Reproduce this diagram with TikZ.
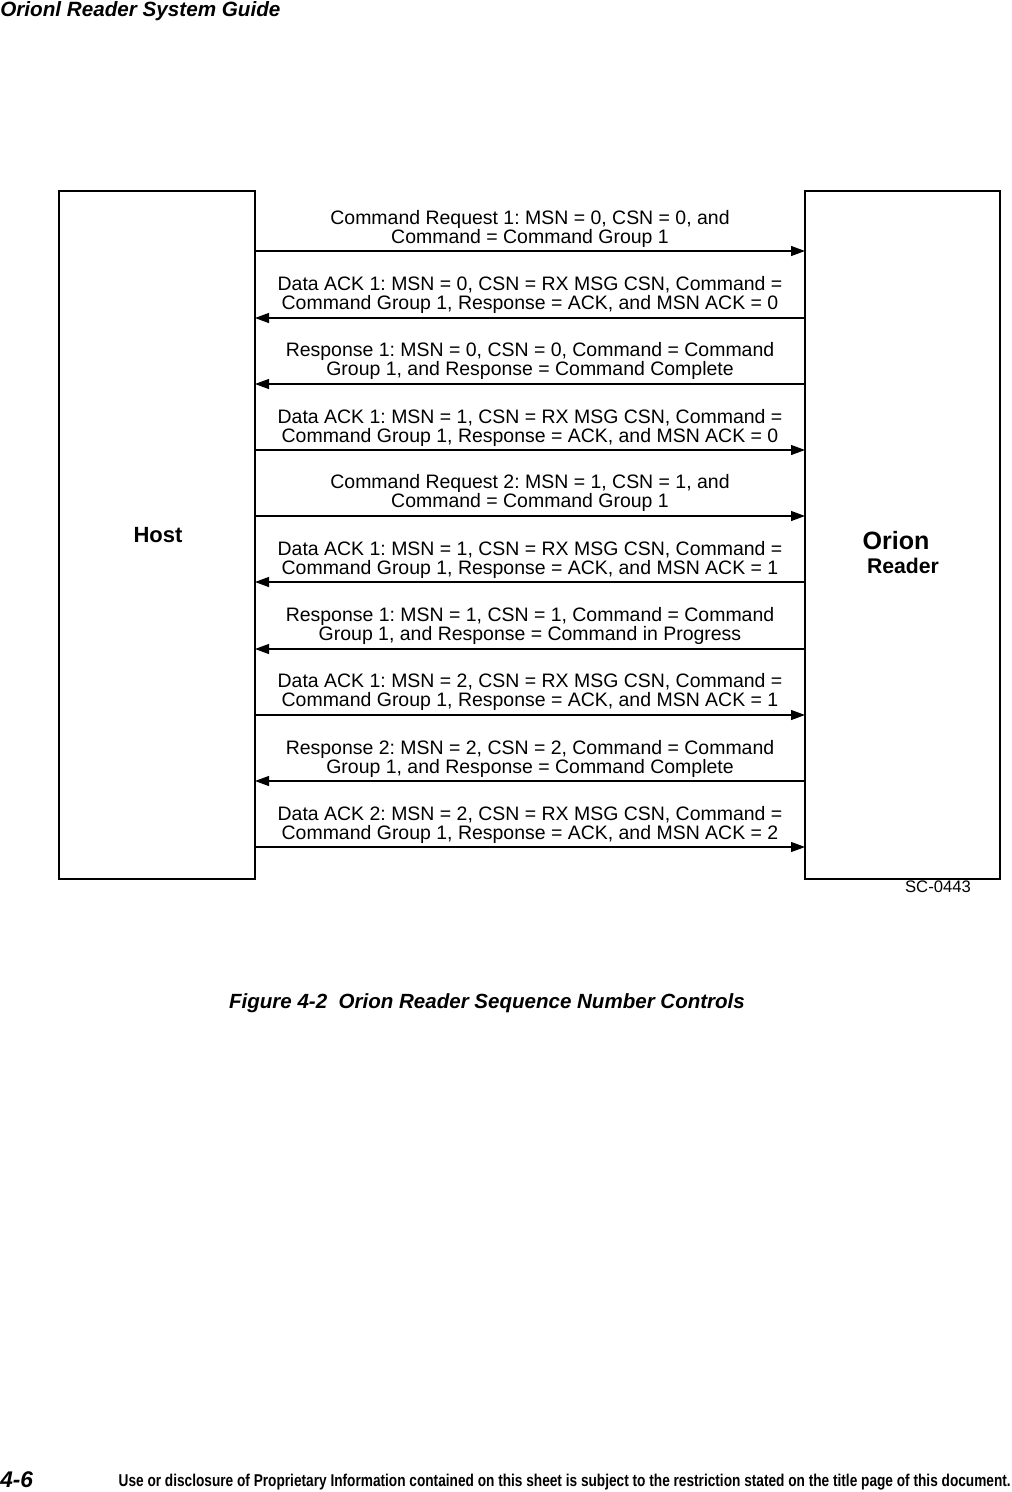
\documentclass[tikz,border=0pt]{standalone}
\usepackage{fontspec}
\usepackage{graphicx}
\setmainfont{Liberation Sans}
\newfontfamily\narrowfont[FakeStretch=0.8]{Liberation Sans}
\usetikzlibrary{arrows.meta}
\frenchspacing
\begin{document}
\begin{tikzpicture}[x=0.75pt,y=-0.75pt,
  boxst/.style={draw,line width=1.8pt,inner sep=0pt},
  msg/.style={line width=0.8pt,-{Triangle[length=10.5pt,width=7.5pt]}},
  lbl/.style={align=center,font=\fontsize{14.6pt}{14.3pt}\selectfont,inner sep=0pt}]
\useasboundingbox (0,0) rectangle (1011,1492);
\node[anchor=base west,font=\fontsize{15.5pt}{17pt}\selectfont\bfseries\itshape,inner sep=0pt] (hdr) at (0,16) {Orionl Reader System Guide};
\node[boxst,minimum width=196*0.75pt,minimum height=688*0.75pt] (host) at (157,535) {};
\node[boxst,minimum width=195*0.75pt,minimum height=688*0.75pt] (reader) at (902.5,535) {};
\node[font=\fontsize{16.5pt}{18pt}\selectfont\bfseries,inner sep=0pt] (hostlbl) at (158,535) {Host};
\node[font=\fontsize{18.8pt}{20pt}\selectfont\bfseries,inner sep=0pt] (orion) at (896,541) {Orion};
\node[font=\fontsize{15.9pt}{18pt}\selectfont\bfseries,inner sep=0pt] (rdr) at (903,566) {Reader};
\node[font=\fontsize{12.5pt}{14pt}\selectfont,inner sep=0pt] (sc) at (938,886.5) {SC-0443};
% arrow coordinates
\foreach \n/\y in {a/251,b/318,c/384,d/450,e/516,f/582,g/649,h/715,i/781,j/847}{
  \coordinate (L\n) at (255,\y);
  \coordinate (R\n) at (805,\y);
}
\draw[msg] (La) -- (Ra);
\draw[msg] (Rb) -- (Lb);
\draw[msg] (Rc) -- (Lc);
\draw[msg] (Ld) -- (Rd);
\draw[msg] (Le) -- (Re);
\draw[msg] (Rf) -- (Lf);
\draw[msg] (Rg) -- (Lg);
\draw[msg] (Lh) -- (Rh);
\draw[msg] (Ri) -- (Li);
\draw[msg] (Lj) -- (Rj);
\node[lbl] (ta) at (530,228.5) {Command Request 1: MSN = 0, CSN = 0, and\\Command = Command Group 1};
\node[lbl] (tb) at (530,295) {Data ACK 1: MSN = 0, CSN = RX MSG CSN, Command =\\Command Group 1, Response = ACK, and MSN ACK = 0};
\node[lbl] (tc) at (530,361) {Response 1: MSN = 0, CSN = 0, Command = Command\\Group 1, and Response = Command Complete};
\node[lbl] (td) at (530,427.5) {Data ACK 1: MSN = 1, CSN = RX MSG CSN, Command =\\Command Group 1, Response = ACK, and MSN ACK = 0};
\node[lbl] (te) at (530,493) {Command Request 2: MSN = 1, CSN = 1, and\\Command = Command Group 1};
\node[lbl] (tf) at (530,560) {Data ACK 1: MSN = 1, CSN = RX MSG CSN, Command =\\Command Group 1, Response = ACK, and MSN ACK = 1};
\node[lbl] (tg) at (530,626) {Response 1: MSN = 1, CSN = 1, Command = Command\\Group 1, and Response = Command in Progress};
\node[lbl] (th) at (530,692) {Data ACK 1: MSN = 2, CSN = RX MSG CSN, Command =\\Command Group 1, Response = ACK, and MSN ACK = 1};
\node[lbl] (ti) at (530,758.5) {Response 2: MSN = 2, CSN = 2, Command = Command\\Group 1, and Response = Command Complete};
\node[lbl] (tj) at (530,825) {Data ACK 2: MSN = 2, CSN = RX MSG CSN, Command =\\Command Group 1, Response = ACK, and MSN ACK = 2};
\node[font=\fontsize{15.4pt}{17pt}\selectfont\bfseries\itshape,inner sep=0pt] (cap) at (487,1003) {Figure 4-2\ \ Orion Reader Sequence Number Controls};
\node[anchor=base west,font=\fontsize{17pt}{19pt}\selectfont\bfseries\itshape,inner sep=0pt] (pg) at (0,1487) {4-6};
\node[anchor=base east,inner sep=0pt] (note) at (1011,1486) {\resizebox{669pt}{!}{\narrowfont\bfseries\fontsize{10pt}{12pt}\selectfont Use or disclosure of Proprietary Information contained on this sheet is subject to the restriction stated on the title page of this document.}};
\end{tikzpicture}
\end{document}
